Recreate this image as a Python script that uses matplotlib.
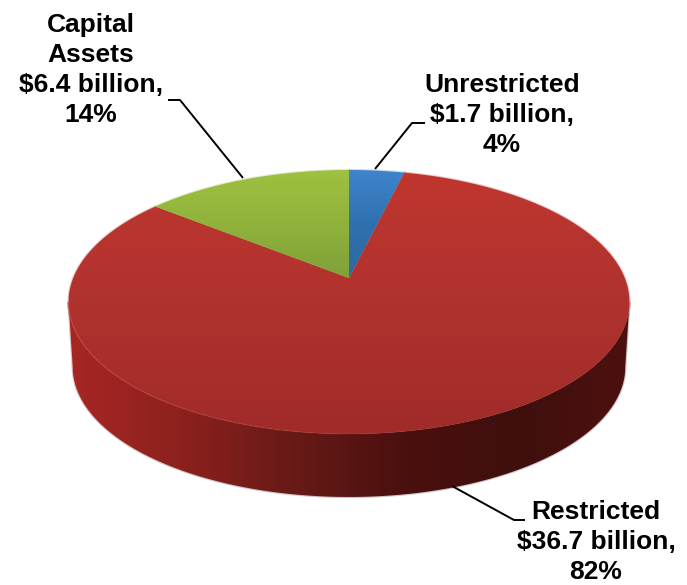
import numpy as np
import matplotlib
matplotlib.use('Agg')
import matplotlib.pyplot as plt
from matplotlib.colors import LinearSegmentedColormap
from matplotlib.patches import Polygon
from matplotlib.collections import LineCollection

categories = ['Unrestricted', 'Restricted', 'Capital\nAssets']
amounts = [1.7, 36.7, 6.4]
shares = [4, 82, 14]

# perspective of the pie disc, in pixels
cx, cy = 349.0, 278.0
A, H, Q = 275.8, 127.6, 0.1818
DEPTH = 65
W, HT = 687, 585


def disc(theta, shrink=1.0, drop=0.0):
    # theta clockwise from the top of the disc
    x, y = np.sin(theta), np.cos(theta)
    w = 1 + Q * y
    return np.column_stack([cx + shrink * A * x / w, cy + drop - shrink * H * y / w + (1 - shrink) * 24])


def fill_gradient(ax, path_pts, colors, horizontal=False, extent=(0, W, HT, 0)):
    cmap = LinearSegmentedColormap.from_list('g', colors, N=1024)
    grad = np.linspace(0, 1, 1024)
    grad = grad.reshape(1, -1) if horizontal else grad.reshape(-1, 1)
    im = ax.imshow(grad, cmap=cmap, extent=extent, aspect='auto', zorder=2, interpolation='bilinear')
    patch = Polygon(path_pts, closed=True, transform=ax.transData, fc='none', ec='none')
    ax.add_patch(patch)
    im.set_clip_path(patch)
    # soft edge, the shape is slightly blurred in the original
    ax.add_patch(Polygon(path_pts, closed=True, fc='none', ec=colors[len(colors) // 2],
                         lw=1.6, alpha=0.25, zorder=1.9))
    return im


fig = plt.figure(figsize=(6.87, 5.85), dpi=100)
ax = fig.add_axes([0, 0, 1, 1])
ax.axis('off')

# side of the pie
t_start = np.pi / 2 + np.arcsin(Q)
t = np.linspace(t_start, 2 * np.pi - t_start, 200)
side = np.vstack([disc(t), disc(t[::-1], 0.985, DEPTH)])
fill_gradient(ax, side,
              ['#a82624', '#8c211e', '#681a17', '#4a100e', '#3f0f0d', '#4d110f'],
              horizontal=True, extent=(68, 629, 500, 280))

# slices on top, clockwise from 12 o'clock
fractions = np.array(amounts) / sum(amounts)
edges = np.concatenate([[0], np.cumsum(fractions)]) * 2 * np.pi
slice_colors = [
    ['#3f84cc', '#2f70ae', '#2a6aa0'],
    ['#c0362f', '#b0322e', '#a02b29'],
    ['#9fc140', '#90b23c', '#7ea038'],
]
tops = [(170, 280), (170, 436), (170, 280)]
for i in range(len(amounts)):
    t = np.linspace(edges[i], edges[i + 1], 200)
    pts = np.vstack([[[cx, cy]], disc(t)])
    fill_gradient(ax, pts, slice_colors[i], extent=(0, W, tops[i][1], tops[i][0]))

# light edge where the top meets the side
t = np.linspace(t_start + 0.15, 2 * np.pi - t_start, 120)
rim = disc(t)[::-1]
segs = np.stack([rim[:-1], rim[1:]], axis=1)
alphas = np.clip(0.55 * (1 - np.linspace(0, 1, len(segs)) * 1.5), 0, 1)
ax.add_collection(LineCollection(segs, colors=[(0.82, 0.3, 0.27, a) for a in alphas],
                                 linewidths=1.2, zorder=3))

# leader lines
leaders = [[(425, 123), (412, 123), (375, 169)],
           [(525, 520), (514, 520), (452, 486)],
           [(168, 100), (180, 100), (243, 178)]]
for pts in leaders:
    xs, ys = zip(*pts)
    ax.plot(xs, ys, color='black', lw=1.4, zorder=4, solid_capstyle='butt')

# labels
label_pos = [(502, 115), (596, 542), (91, 70)]
for name, amt, pct, (lx, ly) in zip(categories, amounts, shares, label_pos):
    ax.text(lx, ly, f'{name}\n${amt} billion,\n{pct}%', ha='center', va='center',
            family='Liberation Sans', fontweight='bold', fontsize=19, linespacing=1.32,
            color='black', zorder=5)

ax.set_xlim(0, W)
ax.set_ylim(HT, 0)
fig.savefig('out.png', dpi=100, facecolor='white')
